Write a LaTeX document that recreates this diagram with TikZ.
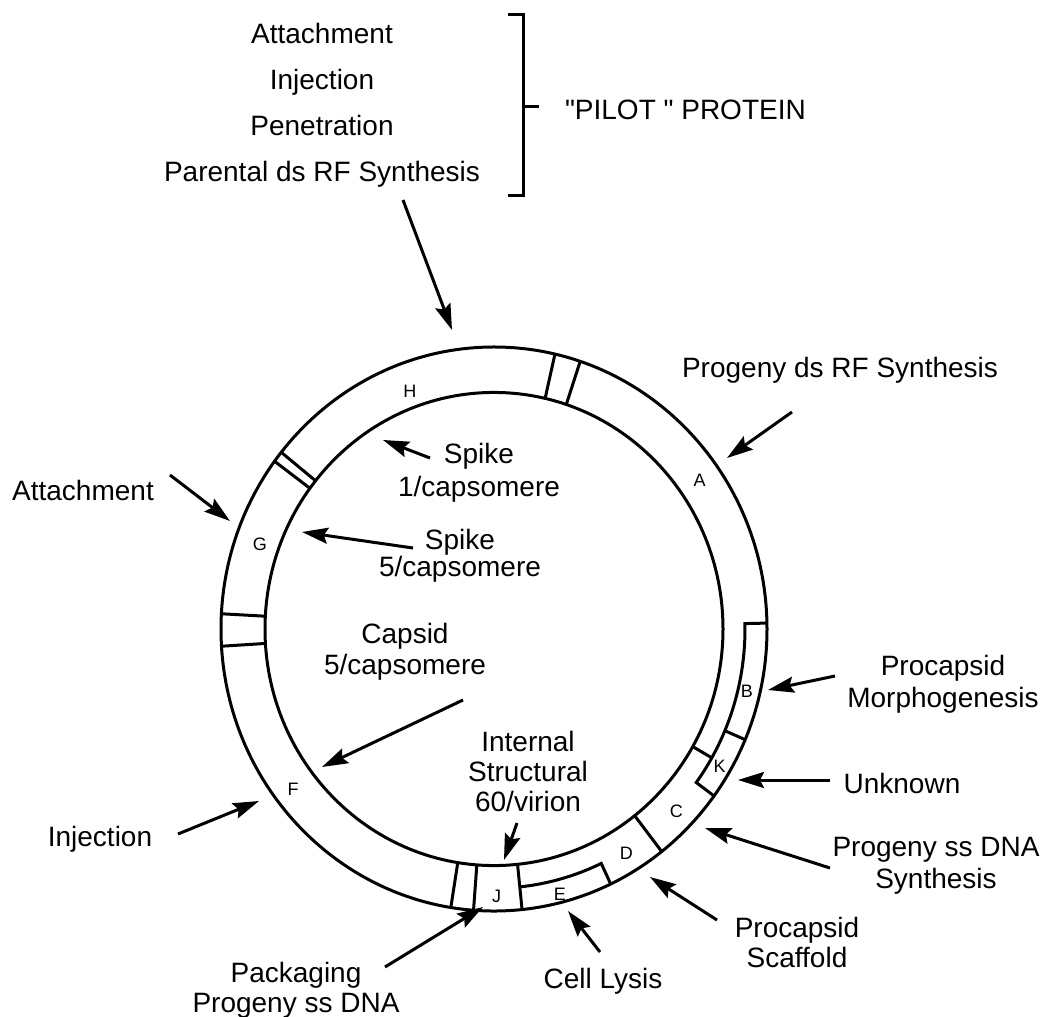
\documentclass[tikz,border=0pt]{standalone}
\usepackage{fontspec}
\setmainfont{Liberation Sans}
\newfontfamily\straightfont{Liberation Sans}
\usetikzlibrary{arrows.meta}
\begin{document}
\begin{tikzpicture}[x=1pt, y=-1pt, line width=3pt,
  >={Stealth[length=26pt, width=16pt, inset=4pt]},
  lbl/.style={font=\fontsize{28}{31}\selectfont, inner sep=0pt, outer sep=0pt, align=center},
  gene/.style={font=\fontsize{18}{18}\selectfont, inner sep=0pt}]
\useasboundingbox (0,0) rectangle (1042,1017);
% Functions of the pilot protein
\node[lbl, anchor=north, font=\fontsize{28}{46}\selectfont] (steps) at (322,23) {Attachment\\Injection\\Penetration\\Parental ds RF Synthesis};
\draw (508,14) -- (523,14) -- (523,195) -- (508,195);
\draw (523,106) -- (539,106);
\node[lbl, anchor=base west] (pilot) at (565,119) {\straightfont "PILOT " PROTEIN};
% Genome ring (slightly taller than wide)
\begin{scope}[shift={(494,629)}, yscale=-1.033]
  \draw (0,0) circle [radius=273];
  \draw (0,0) circle [radius=229];
  \foreach \a in {77.1,71.6,143.5,141.2,176.9,183.5,260.9,265.7,275.9,307.9}
    \draw (\a:229) -- (\a:273);
  % B and K sit in the outer half
  \draw (1.2:273) -- (1.2:251) arc [start angle=1.2, end angle=-36.3, radius=251] -- (-36.3:273);
  \draw (-23.1:251) -- (-23.1:273);
  \draw (-29.8:229) -- (-29.8:251);
  % E sits in the outer half
  \draw (275.9:251) arc [start angle=275.9, end angle=295.3, radius=251] -- (295.3:273);
  % Gene names
  \node[gene] (gH) at (110.1:245) {H};
  \node[gene] (gA) at (35:251) {A};
  \node[gene] (gB) at (346.5:260) {B};
  \node[gene] (gK) at (329.5:262) {K};
  \node[gene] (gC) at (315.9:254) {C};
  \node[gene] (gD) at (301.4:254) {D};
  \node[gene] (gE) at (284.4:265) {E};
  \node[gene] (gJ) at (270.6:259) {J};
  \node[gene] (gF) at (217.7:254) {F};
  \node[gene] (gG) at (160.8:248) {G};
\end{scope}
% Labels round the ring
\node[lbl, anchor=base] (progrf) at (840,377) {Progeny ds RF Synthesis};
\node[lbl, anchor=base] (attach) at (83,500) {Attachment};
\node[lbl, anchor=north, font=\fontsize{28}{33}\selectfont] (spikeone) at (479,443) {Spike\\1/capsomere};
\node[lbl, anchor=north, font=\fontsize{28}{27}\selectfont] (spikefive) at (460,529) {Spike\\5/capsomere};
\node[lbl, anchor=north] (capsid) at (405,623) {Capsid\\5/capsomere};
\node[lbl, anchor=north, font=\fontsize{28}{30}\selectfont] (internal) at (528,731) {Internal\\Structural\\60/virion};
\node[lbl, anchor=north, font=\fontsize{28}{32}\selectfont] (morph) at (943,655) {Procapsid\\Morphogenesis};
\node[lbl, anchor=base] (unknown) at (902,793) {Unknown};
\node[lbl, anchor=north, font=\fontsize{28}{32}\selectfont] (progss) at (936,837) {Progeny ss DNA\\Synthesis};
\node[lbl, anchor=north, font=\fontsize{28}{30}\selectfont] (scaffold) at (797,917) {Procapsid\\Scaffold};
\node[lbl, anchor=base] (lysis) at (603,988) {Cell Lysis};
\node[lbl, anchor=north, font=\fontsize{28}{30}\selectfont] (packaging) at (296,962) {Packaging\\Progeny ss DNA};
\node[lbl, anchor=base] (injection) at (100,846) {Injection};
% Arrow ends
\coordinate (parS) at (403,200);  \coordinate (parT) at (452,330);
\coordinate (rfS) at (792,412);   \coordinate (rfT) at (727,458);
\coordinate (atS) at (170,475);   \coordinate (atT) at (230,521);
\coordinate (s1S) at (430,458);   \coordinate (s1T) at (383,440);
\coordinate (s5S) at (413,548);   \coordinate (s5T) at (302,532);
\coordinate (caS) at (463,700);   \coordinate (caT) at (322,767);
\coordinate (inS) at (517,823);   \coordinate (inT) at (504,860);
\coordinate (moS) at (835,676);   \coordinate (moT) at (768,690);
\coordinate (unS) at (830,780);   \coordinate (unT) at (738,780);
\coordinate (psS) at (830,868);   \coordinate (psT) at (705,828);
\coordinate (scS) at (717,920);   \coordinate (scT) at (650,877);
\coordinate (lyS) at (600,952);   \coordinate (lyT) at (568,911);
\coordinate (paS) at (385,967);   \coordinate (paT) at (483,907);
\coordinate (ijS) at (178,834);   \coordinate (ijT) at (259,801);
% Arrows
\foreach \p in {par,rf,at,s1,s5,ca,in,mo,un,ps,sc,ly,pa,ij}
  \draw[->] (\p S) -- (\p T);
\end{tikzpicture}
\end{document}
